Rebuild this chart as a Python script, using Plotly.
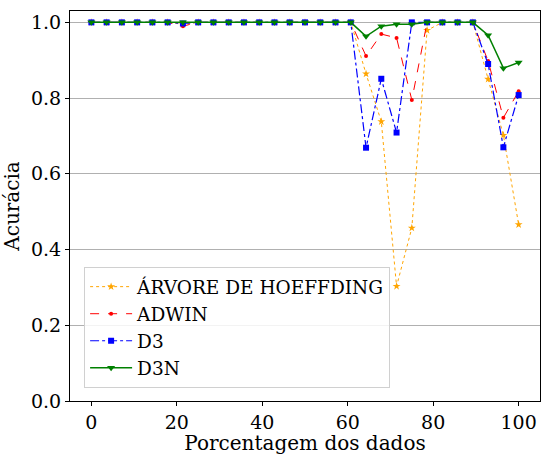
import plotly.graph_objects as go

x = [i * 100 / 28 for i in range(29)]
arvore = [1.0]*6 + [0.995] + [1.0]*10 + [1.0, 0.864, 0.738, 0.303, 0.457, 0.979, 1.0, 1.0, 1.0, 0.850, 0.702, 0.466]
adwin = [1.0]*6 + [0.99] + [1.0]*10 + [1.0, 0.911, 0.969, 0.959, 0.795, 1.0, 1.0, 1.0, 1.0, 0.898, 0.748, 0.818]
d3 = [1.0]*6 + [0.997] + [1.0]*10 + [1.0, 0.669, 0.851, 0.709, 1.0, 1.0, 1.0, 1.0, 1.0, 0.890, 0.670, 0.808]
d3n = [1.0]*6 + [1.0] + [1.0]*10 + [1.0, 0.963, 0.990, 0.995, 0.995, 1.0, 1.0, 1.0, 1.0, 0.966, 0.879, 0.894]

names = ["ÁRVORE DE HOEFFDING", "ADWIN", "D3", "D3N"]
series = [arvore, adwin, d3, d3n]
colors = ["orange", "red", "blue", "green"]
dashes = ["dot", "dash", "dashdot", "solid"]
symbols = ["star", "circle", "square", "triangle-down"]
msizes = [6, 4, 6, 7]
widths = [1, 1, 1.2, 1.5]

fig = go.Figure()
for n, s, c, d, sym, ms, w in zip(names, series, colors, dashes, symbols, msizes, widths):
    fig.add_trace(go.Scatter(x=x, y=s, name=n, mode="lines+markers",
                             line=dict(color=c, dash=d, width=w),
                             marker=dict(symbol=sym, size=ms, color=c)))

font = "DejaVu Serif"
fig.update_layout(
    width=543, height=455,
    margin=dict(l=70, r=2, t=11, b=52),
    paper_bgcolor="white", plot_bgcolor="white",
    font=dict(family=font, size=20, color="black"),
    showlegend=True,
    legend=dict(x=0.03, y=0.033, xanchor="left", yanchor="bottom",
                bgcolor="rgba(255,255,255,0.85)", bordercolor="#d0d0d0", borderwidth=1,
                itemwidth=42, tracegroupgap=4,
                font=dict(size=18.5, family=font, color="black")),
    xaxis=dict(range=[-5, 105], tickvals=[0, 20, 40, 60, 80, 100], ticks="outside",
               ticklen=4, tickcolor="black", showgrid=False, zeroline=False,
               showline=True, linecolor="black", linewidth=1.2, mirror=True,
               title=dict(text="Porcentagem dos dados", font=dict(size=20, family=font, color="black"), standoff=6),
               tickfont=dict(size=19, family=font, color="black")),
    yaxis=dict(range=[0, 1.03], tickvals=[0, 0.2, 0.4, 0.6, 0.8, 1.0], tickformat=".1f",
               ticks="outside", ticklen=4, tickcolor="black", showgrid=True,
               gridcolor="#b0b0b0", gridwidth=1, zeroline=False,
               showline=True, linecolor="black", linewidth=1.2, mirror=True,
               title=dict(text="Acurácia", font=dict(size=20, family=font, color="black"), standoff=10),
               tickfont=dict(size=19, family=font, color="black")),
)
fig.write_html("out.html")
